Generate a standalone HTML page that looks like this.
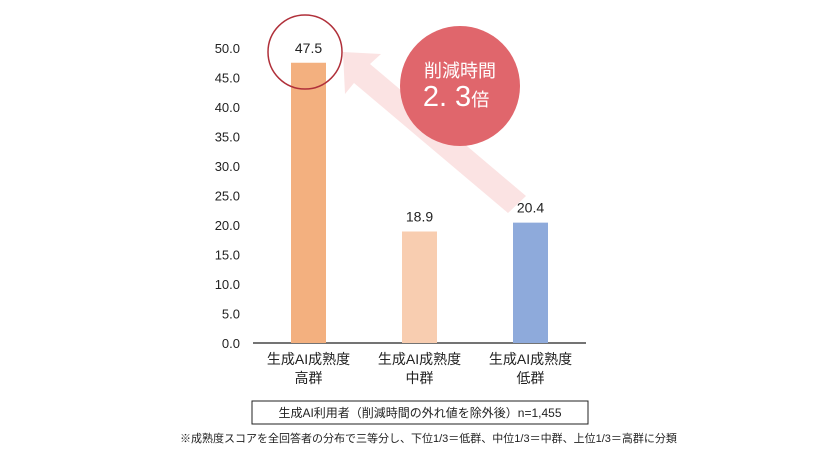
<!DOCTYPE html>
<html><head><meta charset="utf-8"><style>
body{margin:0;background:#fff;font-family:"Liberation Sans","Noto Sans CJK JP",sans-serif}
svg text{font-family:"Liberation Sans","Noto Sans CJK JP",sans-serif}
</style></head><body>
<svg width="840" height="460">
<g id="arrow">
<polygon points="343,52 381,54 370,64 526,196 508,213 354,83 345,94" fill="#fbe3e3"/>
</g>
<g id="ticks"></g>
<line x1="253" y1="343" x2="586" y2="343" stroke="#222" stroke-width="1.2"/>
<g id="bars"></g>
<circle cx="305" cy="52" r="37" fill="none" stroke="#b0303a" stroke-width="1.5"/>
<g>
<circle cx="460" cy="86" r="60" fill="#e0666c"/>
<text x="460" y="77" text-anchor="middle" font-size="18" fill="#fff">削減時間</text>
<text x="456" y="106" text-anchor="middle" font-size="29" fill="#fff">2. 3<tspan font-size="18">倍</tspan></text>
</g>
<rect x="252" y="401" width="336" height="23" fill="none" stroke="#222"/>
<text x="420" y="417" text-anchor="middle" font-size="12" fill="#222">生成AI利用者（削減時間の外れ値を除外後）n=1,455</text>
<text x="180" y="442" font-size="11" fill="#222">※成熟度スコアを全回答者の分布で三等分し、下位1/3＝低群、中位1/3＝中群、上位1/3＝高群に分類</text>
</svg>
<script>
const categories=["生成AI成熟度|高群","生成AI成熟度|中群","生成AI成熟度|低群"];
const values=[47.5,18.9,20.4];
const valueLabels=["47.5","18.9","20.4"];
const colors=["#f3b07f","#f8cdb0","#8eaadb"];
const tickValues=[0,5,10,15,20,25,30,35,40,45,50];
const y=v=>343-v*5.9;
const x=i=>308.5+i*111;
const ns="http://www.w3.org/2000/svg";
function mk(t,a,p){const e=document.createElementNS(ns,t);for(const k in a)e.setAttribute(k,a[k]);p.appendChild(e);return e;}
const tg=document.getElementById('ticks');
tickValues.forEach(v=>{const t=mk('text',{x:240,y:y(v)+5,'text-anchor':'end','font-size':13,fill:'#222'},tg);t.textContent=v.toFixed(1);

});
const bg=document.getElementById('bars');
values.forEach((v,i)=>{const r=mk('rect',{x:x(i)-17.5,y:y(v),width:35,height:343-y(v),fill:colors[i]},bg);


const t=mk('text',{x:x(i),y:y(v)-10,'text-anchor':'middle','font-size':14,fill:'#222'},bg);t.textContent=valueLabels[i];


categories[i].split('|').forEach((s,j)=>{const c=mk('text',{x:x(i),y:364+j*19,'text-anchor':'middle','font-size':14,fill:'#222'},bg);c.textContent=s;

});});
</script>
</body></html>
